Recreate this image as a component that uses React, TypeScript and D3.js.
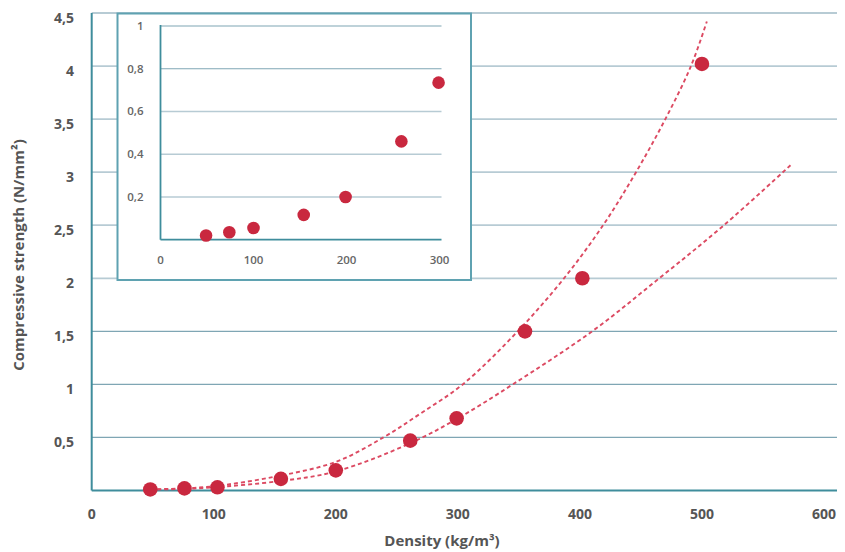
import React from "react";
import * as d3 from "d3";

// Main chart data (density kg/m³, strength N/mm²)
const mainDensity = [48, 76, 103, 155, 200, 261, 299, 355, 402, 500];
const mainStrength = [0.01, 0.02, 0.03, 0.11, 0.19, 0.47, 0.68, 1.5, 2.0, 4.02];

// Trend curves
const upperCurveX = [48, 75, 100, 150, 200, 239, 270, 304, 349, 387, 419, 446, 470, 491, 504];
const upperCurveY = [0.01, 0.02, 0.04, 0.13, 0.27, 0.5, 0.73, 1.0, 1.5, 2.0, 2.5, 3.0, 3.5, 4.0, 4.42];
const lowerCurveX = [48, 75, 100, 155, 200, 260, 300, 345, 410, 465, 518, 573];
const lowerCurveY = [0.01, 0.015, 0.03, 0.09, 0.18, 0.44, 0.68, 1.0, 1.5, 2.0, 2.5, 3.07];

// Inset data
const insetDensity = [49, 74, 100, 154, 199, 259, 299];
const insetStrength = [0.02, 0.035, 0.055, 0.116, 0.2, 0.46, 0.735];

// Ticks
const mainYTicks = [0.5, 1, 1.5, 2, 2.5, 3, 3.5, 4, 4.5];
const mainXTicks = [0, 100, 200, 300, 400, 500, 600];
const insetYTicks = [0.2, 0.4, 0.6, 0.8, 1];
const insetXTicks = [0, 100, 200, 300];

const fmt = (v: number) => String(v).replace(".", ",");

const FONT = "'Open Sans', 'Noto Sans', sans-serif";
const AXIS = "#3f8d9c";
const GRID_LIGHT = "#b7cbd4";
const GRID_DARK = "#7fa6b4";
const DOT = "#c9283f";
const CURVE = "#dc4a62";
const TEXT = "#555555";

export default function App() {
  const W = 845, H = 552;
  const x = d3.scaleLinear().domain([0, 600]).range([91.7, 824]);
  const y = d3.scaleLinear().domain([0, 4.5]).range([490.5, 13]);
  const ix = d3.scaleLinear().domain([0, 300]).range([160.5, 439.5]);
  const iy = d3.scaleLinear().domain([0, 1]).range([239.7, 26]);

  const line = d3
    .line<[number, number]>()
    .x((d) => x(d[0]))
    .y((d) => y(d[1]))
    .curve(d3.curveCatmullRom.alpha(0.5));

  const upper = line(upperCurveX.map((v, i) => [v, upperCurveY[i]] as [number, number])) || "";
  const lower = line(lowerCurveX.map((v, i) => [v, lowerCurveY[i]] as [number, number])) || "";

  const gridRight = 837;
  const inset = { x0: 117.5, y0: 13.5, x1: 471, y1: 280 };

  return (
    <svg
      width={W}
      height={H}
      style={{ position: "absolute", left: 0, top: 0, display: "block", background: "#fff" }}
      fontFamily={FONT}
    >
      {/* main gridlines */}
      {mainYTicks.map((t) => (
        <line
          key={"g" + t}
          x1={x(0)}
          x2={gridRight}
          y1={y(t)}
          y2={y(t)}
          stroke={t <= 1.5 ? GRID_DARK : GRID_LIGHT}
          strokeWidth={t <= 1.5 ? 1.3 : 1.8}
        />
      ))}
      {/* main axes */}
      <line x1={x(0)} x2={x(0)} y1={13} y2={y(0)} stroke={AXIS} strokeWidth={2} />
      <line x1={x(0)} x2={gridRight} y1={y(0)} y2={y(0)} stroke={AXIS} strokeWidth={2} />

      {/* main y tick labels */}
      {mainYTicks.map((t) => (
        <text
          key={"yl" + t}
          x={74}
          y={y(t) + 10}
          textAnchor="end"
          fontSize={14}
          fontWeight={700}
          fill={TEXT}
        >
          {fmt(t)}
        </text>
      ))}
      {/* main x tick labels */}
      {mainXTicks.map((t) => (
        <text
          key={"xl" + t}
          x={x(t)}
          y={519}
          textAnchor="middle"
          fontSize={14}
          fontWeight={700}
          fill={TEXT}
        >
          {t}
        </text>
      ))}
      {/* axis titles */}
      <text x={442} y={546} textAnchor="middle" fontSize={15} fontWeight={700} fill={TEXT}>
        Density (kg/m³)
      </text>
      <text
        transform={`translate(24,255) rotate(-90)`}
        textAnchor="middle"
        fontSize={15}
        fontWeight={700}
        fill={TEXT}
      >
        Compressive strength (N/mm²)
      </text>

      {/* inset box */}
      <rect
        x={inset.x0}
        y={inset.y0}
        width={inset.x1 - inset.x0}
        height={inset.y1 - inset.y0}
        fill="#fff"
        stroke="#5fa2b1"
        strokeWidth={2}
      />
      {insetYTicks.map((t) => (
        <line
          key={"ig" + t}
          x1={ix(0)}
          x2={ix(300) + 2}
          y1={iy(t)}
          y2={iy(t)}
          stroke={t >= 0.8 ? GRID_DARK : GRID_LIGHT}
          strokeWidth={t >= 0.8 ? 1.2 : 1.6}
        />
      ))}
      <line x1={ix(0)} x2={ix(0)} y1={iy(1) - 1} y2={iy(0)} stroke={AXIS} strokeWidth={1.8} />
      <line x1={ix(0)} x2={ix(300) + 2} y1={iy(0)} y2={iy(0)} stroke={AXIS} strokeWidth={1.8} />
      {insetYTicks.map((t) => (
        <text
          key={"iyl" + t}
          x={143.5}
          y={iy(t) + 4}
          textAnchor="end"
          fontSize={11.5}
          fontWeight={600}
          fill="#666"
        >
          {fmt(t)}
        </text>
      ))}
      {insetXTicks.map((t) => (
        <text
          key={"ixl" + t}
          x={ix(t)}
          y={263.5}
          textAnchor="middle"
          fontSize={11.5}
          fontWeight={600}
          fill="#666"
        >
          {t}
        </text>
      ))}
      {insetDensity.map((d, i) => (
        <circle key={"ic" + i} cx={ix(d)} cy={iy(insetStrength[i])} r={6.3} fill={DOT} />
      ))}

      {/* trend curves */}
      <path d={upper} fill="none" stroke={CURVE} strokeWidth={1.9} strokeDasharray="4 3" />
      <path d={lower} fill="none" stroke={CURVE} strokeWidth={1.9} strokeDasharray="4 3" />

      {/* main dots */}
      {mainDensity.map((d, i) => (
        <circle key={"c" + i} cx={x(d)} cy={y(mainStrength[i])} r={7.3} fill={DOT} />
      ))}
    </svg>
  );
}
